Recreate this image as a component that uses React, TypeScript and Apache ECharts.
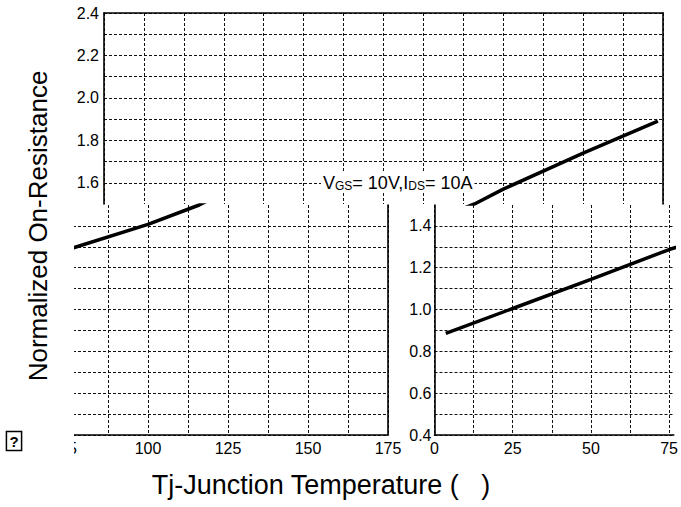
import React, { useEffect, useRef } from "react";
import * as echarts from "echarts";

// Junction temperature (°C) and normalized on-resistance
const tempC = [3.6, 25, 50, 75, 100, 116, 125, 150, 173.4];
const rdsNorm = [0.886, 1.005, 1.144, 1.287, 1.407, 1.5, 1.57, 1.74, 1.89];

const upperYTicks = ["1.6", "1.8", "2.0", "2.2", "2.4"];
const lowerYTicks = ["0.4", "0.6", "0.8", "1.0", "1.2", "1.4"];
const xTicks = ["0", "25", "50", "75", "100", "125", "150", "175"];

const yTitle = "Normalized On-Resistance";
const xTitle = "Tj-Junction Temperature (\u00a0\u00a0\u00a0)";
const noteRich = "{a|V}{b|GS}{a|= 10V,I}{b|DS}{a|= 10A}";

const FONT = "'Liberation Sans', Arial, sans-serif";

export default function App() {
  const ref = useRef<HTMLDivElement>(null);
  useEffect(() => {
    if (!ref.current) return;
    document.body.style.margin = "0";
    const chart = echarts.init(ref.current, null, { renderer: "svg" });
    const points = tempC.map((t, i) => [t, rdsNorm[i]]);
    const dash = { show: true, lineStyle: { color: "#111", width: 1, type: [3, 2] } };
    const solid = { show: true, lineStyle: { color: "#000", width: 1.6 } };
    const yFmt = (list: string[]) => (v: number) => {
      const s = v.toFixed(1);
      return list.indexOf(s) >= 0 ? s : "";
    };
    const xFmt = (v: number) => {
      const s = String(Math.round(v * 10) / 10);
      return xTicks.indexOf(s) >= 0 ? s : "";
    };
    const lbl = { color: "#000", fontSize: 16, fontFamily: FONT };
    chart.setOption({
      animation: false,
      backgroundColor: "#fff",
      grid: [
        { left: 104, top: 13, width: 559, height: 191 },
        { left: 68, top: 205, width: 320, height: 230 },
        { left: 434.5, top: 205, width: 246.5, height: 230 },
      ],
      xAxis: [
        {
          type: "value", gridIndex: 0, position: "top", min: 0, max: 175, interval: 12.5,
          axisLine: solid, axisTick: { show: false }, axisLabel: { show: false }, splitLine: dash,
        },
        {
          type: "value", gridIndex: 1, position: "bottom", min: 75, max: 175, interval: 12.5,
          axisLine: solid, axisTick: { show: false },
          axisLabel: { ...lbl, margin: 5, formatter: xFmt }, splitLine: dash,
        },
        {
          type: "value", gridIndex: 2, position: "bottom", min: 0, max: 76.5, interval: 12.5,
          axisLine: solid, axisTick: { show: false },
          axisLabel: { ...lbl, margin: 5, formatter: xFmt, showMaxLabel: false },
          splitLine: { ...dash, showMaxLine: false },
        },
      ],
      yAxis: [
        {
          type: "value", gridIndex: 0, position: "left", min: 1.5, max: 2.4, interval: 0.1,
          axisLine: solid, axisTick: { show: false },
          axisLabel: { ...lbl, margin: 5, formatter: yFmt(upperYTicks) },
          splitLine: { ...dash, showMinLine: false },
        },
        {
          type: "value", gridIndex: 0, position: "right", min: 1.5, max: 2.4,
          axisLine: solid, axisTick: { show: false }, axisLabel: { show: false }, splitLine: { show: false },
        },
        {
          type: "value", gridIndex: 1, position: "right", min: 0.4, max: 1.5, interval: 0.1,
          axisLine: solid, axisTick: { show: false }, axisLabel: { show: false },
          splitLine: { ...dash, showMaxLine: false },
        },
        {
          type: "value", gridIndex: 2, position: "left", min: 0.4, max: 1.5, interval: 0.1,
          axisLine: solid, axisTick: { show: false },
          axisLabel: { ...lbl, margin: 3, formatter: yFmt(lowerYTicks) },
          splitLine: { ...dash, showMaxLine: false },
        },
      ],
      series: [
        { type: "line", xAxisIndex: 0, yAxisIndex: 0, data: points, symbol: "none", clip: true, lineStyle: { color: "#000", width: 3.5 } },
        { type: "line", xAxisIndex: 1, yAxisIndex: 2, data: points, symbol: "none", clip: true, lineStyle: { color: "#000", width: 3.5 } },
        { type: "line", xAxisIndex: 2, yAxisIndex: 3, data: points, symbol: "none", clip: true, lineStyle: { color: "#000", width: 3.5 } },
      ],
      graphic: [
        { type: "rect", z: 100, shape: { x: 50, y: 205, width: 24, height: 255 }, style: { fill: "#fff" } },
        {
          type: "text", z: 110, x: 321, y: 182,
          style: {
            text: noteRich, align: "left", verticalAlign: "middle", fill: "#000",
            backgroundColor: "#fff", padding: [1, 2],
            rich: {
              a: { fontSize: 18, fontFamily: FONT, fill: "#000", verticalAlign: "bottom", lineHeight: 20 },
              b: { fontSize: 12, fontFamily: FONT, fill: "#000", verticalAlign: "bottom", lineHeight: 20 },
            },
          },
        },
        {
          type: "text", z: 110, x: 38, y: 226, rotation: Math.PI / 2,
          style: { text: yTitle, fontSize: 26, fontFamily: FONT, fill: "#000", align: "center", verticalAlign: "middle" },
        },
        {
          type: "text", z: 110, x: 321, y: 485,
          style: { text: xTitle, fontSize: 27, fontFamily: FONT, fill: "#000", align: "center", verticalAlign: "middle" },
        },
        {
          type: "text", z: 110, x: 14, y: 441,
          style: {
            text: "?", fontSize: 15, fontWeight: "bold", fontFamily: FONT, fill: "#000",
            align: "center", verticalAlign: "middle", lineHeight: 15,
            borderColor: "#000", borderWidth: 1.5, padding: [2, 3],
          },
        },
      ],
    });
    return () => chart.dispose();
  }, []);
  return (
    <div
      ref={ref}
      style={{ position: "fixed", left: 0, top: 0, width: 681, height: 507, overflow: "hidden" }}
    />
  );
}
